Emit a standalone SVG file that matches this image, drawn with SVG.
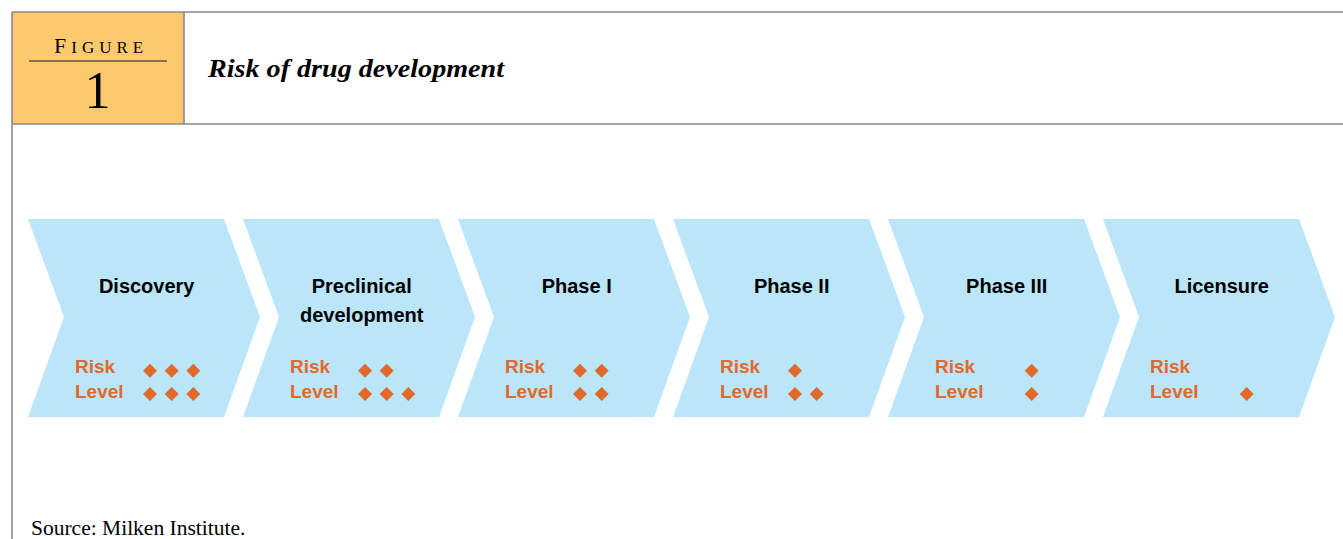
<svg xmlns="http://www.w3.org/2000/svg" width="1343" height="539" viewBox="0 0 1343 539">
<defs>
<style>
.chev{fill:#BBE5F8}
.title{font-family:"Liberation Sans",Arial,sans-serif;font-weight:bold;font-size:20px;fill:#000;text-anchor:middle}
.risk{font-family:"Liberation Sans",Arial,sans-serif;font-weight:bold;font-size:19px;fill:#E06A2C}
.dia{fill:#E06A2C}
.frame{stroke:#8A8A8A;stroke-width:1.6;fill:none}
.serif{font-family:"Liberation Serif","Times New Roman",serif;fill:#000}
</style>
<path id="chevron" d="M0,219 H196 L232,317 L196,417 H0 L36,317 Z"/>
<path id="d" d="M0,-7 L7,0 L0,7 L-7,0 Z"/>
</defs>
<rect width="1343" height="539" fill="#fff"/>

<g id="header">
<rect x="12" y="12" width="172" height="112" fill="#FDC96E"/>
<line class="frame" x1="12" y1="12" x2="1343" y2="12"/>
<line class="frame" x1="12" y1="124" x2="1343" y2="124"/>
<line class="frame" x1="12" y1="12" x2="12" y2="539"/>
<line class="frame" x1="184" y1="12" x2="184" y2="124"/>
<text class="serif" x="54" y="53" font-size="22" letter-spacing="5"><tspan>F</tspan><tspan font-size="17">IGURE</tspan></text>
<line x1="29" y1="61" x2="167" y2="61" stroke="#1a1a1a" stroke-width="1.2"/>
<text class="serif" x="97.5" y="108" font-size="52" text-anchor="middle">1</text>
<text class="serif" x="208" y="77" font-size="25" font-weight="bold" font-style="italic" textLength="296" lengthAdjust="spacingAndGlyphs">Risk of drug development</text>
</g>

<g id="discovery">
<use href="#chevron" class="chev" x="28"/>
<text class="title" x="146.7" y="293">Discovery</text>
<text class="risk" x="75" y="373">Risk</text>
<text class="risk" x="75" y="398">Level</text>
<use href="#d" class="dia" x="150" y="370.7"/><use href="#d" class="dia" x="171.7" y="370.7"/><use href="#d" class="dia" x="193.3" y="370.7"/>
<use href="#d" class="dia" x="150" y="394"/><use href="#d" class="dia" x="171.7" y="394"/><use href="#d" class="dia" x="193.3" y="394"/>
</g>

<g id="preclinical">
<use href="#chevron" class="chev" x="243"/>
<text class="title" x="361.7" y="293">Preclinical</text>
<text class="title" x="361.7" y="322">development</text>
<text class="risk" x="290" y="373">Risk</text>
<text class="risk" x="290" y="398">Level</text>
<use href="#d" class="dia" x="365" y="370.7"/><use href="#d" class="dia" x="386.7" y="370.7"/>
<use href="#d" class="dia" x="365" y="394"/><use href="#d" class="dia" x="386.7" y="394"/><use href="#d" class="dia" x="408.3" y="394"/>
</g>

<g id="phase1">
<use href="#chevron" class="chev" x="458"/>
<text class="title" x="576.7" y="293">Phase I</text>
<text class="risk" x="505" y="373">Risk</text>
<text class="risk" x="505" y="398">Level</text>
<use href="#d" class="dia" x="580" y="370.7"/><use href="#d" class="dia" x="601.7" y="370.7"/>
<use href="#d" class="dia" x="580" y="394"/><use href="#d" class="dia" x="601.7" y="394"/>
</g>

<g id="phase2">
<use href="#chevron" class="chev" x="673"/>
<text class="title" x="791.7" y="293">Phase II</text>
<text class="risk" x="720" y="373">Risk</text>
<text class="risk" x="720" y="398">Level</text>
<use href="#d" class="dia" x="795" y="370.7"/>
<use href="#d" class="dia" x="795" y="394"/><use href="#d" class="dia" x="816.7" y="394"/>
</g>

<g id="phase3">
<use href="#chevron" class="chev" x="888"/>
<text class="title" x="1006.7" y="293">Phase III</text>
<text class="risk" x="935" y="373">Risk</text>
<text class="risk" x="935" y="398">Level</text>
<use href="#d" class="dia" x="1031.7" y="370.7"/>
<use href="#d" class="dia" x="1031.7" y="394"/>
</g>

<g id="licensure">
<use href="#chevron" class="chev" x="1103"/>
<text class="title" x="1221.7" y="293">Licensure</text>
<text class="risk" x="1150" y="373">Risk</text>
<text class="risk" x="1150" y="398">Level</text>
<use href="#d" class="dia" x="1246.7" y="394"/>
</g>

<g id="connectors"/>

<text class="serif" x="31" y="535" font-size="21.5">Source: Milken Institute.</text>
</svg>
